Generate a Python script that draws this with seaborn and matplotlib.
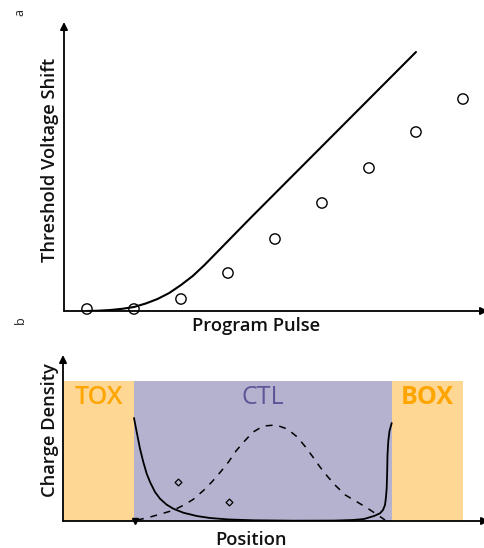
import matplotlib
matplotlib.use("Agg")
import matplotlib.pyplot as plt
import seaborn as sns
import pandas as pd

# ---- data: panel a (threshold voltage shift vs program pulse) ----
pulse_pts = [0, 1, 2, 3, 4, 5, 6, 7, 8]
shift_pts = [2, 2, 12, 38, 72, 108, 143, 179, 212]
pulse_curve = [0, 0.25, 0.5, 0.75, 1, 1.25, 1.5, 1.75, 2, 2.25, 2.5, 2.75, 3, 3.5, 7]
shift_curve = [0, 0.3, 1, 2.2, 4, 7.5, 12, 18, 26, 35, 46, 58, 70, 94, 259]

# ---- data: panel b (charge density vs position) ----
regions = ["TOX", "CTL", "BOX"]
region_start = [0, 70, 328]
region_end = [70, 328, 399]
region_top = 140
solid_pos = [70, 72.7, 76, 79.3, 82.7, 86, 91, 96, 102.7, 109.3, 119.3, 132.7, 146,
             165, 190, 230, 270, 289, 300, 310, 316, 319, 321, 322, 322.7, 323.2,
             323.5, 324.3, 325.5, 327.7]
solid_den = [103, 89, 72.3, 59, 47.3, 39, 29, 22.3, 16.3, 12.3, 8.3, 5, 3,
             1.5, 0.7, 0.3, 0.4, 1, 2, 5, 7.7, 11, 16, 24, 33, 50,
             66, 80, 90, 98]
dash_pos = [73, 82.7, 95, 109.3, 121, 129.3, 140, 148.7, 156.7, 164.7, 172, 180,
            188.7, 199.3, 212, 223.3, 233.3, 241.3, 248.7, 256, 263.7, 272, 281.3,
            292.7, 302.7, 312.7, 321]
dash_den = [1, 3, 6.5, 10.7, 16.5, 21.7, 31, 40, 49.3, 59.3, 70, 79.3,
            88.7, 95, 96, 92, 84, 74.3, 64.3, 54, 44.3, 35, 26,
            19.3, 13.3, 6.7, 1]
marker_pos = [114.3, 165]
marker_den = [39.3, 19.3]

sns.set_style("white")
plt.rcParams["font.family"] = ["Open Sans", "DejaVu Sans"]

fig = plt.figure(figsize=(4.84, 5.48), dpi=100)
W, H = 484, 548


def add_axes(l, r, t, b):
    return fig.add_axes([l / W, (H - b) / H, (r - l) / W, (b - t) / H])


def arrows(ax):
    for s in ax.spines.values():
        s.set_visible(False)
    ax.annotate("", xy=(0, 1), xytext=(0, 0), xycoords="axes fraction",
                arrowprops=dict(arrowstyle="-|>", lw=1.3, color="black",
                                mutation_scale=11, shrinkA=0, shrinkB=0))
    ax.annotate("", xy=(1.012, 0), xytext=(0, 0), xycoords="axes fraction",
                arrowprops=dict(arrowstyle="-|>", lw=1.3, color="black",
                                mutation_scale=11, shrinkA=0, shrinkB=0))
    ax.set_xticks([])
    ax.set_yticks([])


LABEL_KW = dict(fontsize=13.2, fontweight="semibold", color="#111111")

# ---- panel a ----
ax1 = add_axes(64, 483, 22, 311)
df_curve = pd.DataFrame({"pulse": pulse_curve, "shift": shift_curve})
df_pts = pd.DataFrame({"pulse": pulse_pts, "shift": shift_pts})
sns.lineplot(data=df_curve, x="pulse", y="shift", ax=ax1, color="black", lw=1.5)
sns.scatterplot(data=df_pts, x="pulse", y="shift", ax=ax1, marker="o", s=55,
                facecolor="none", edgecolor="black", linewidth=1.0, zorder=5,
                clip_on=False)
ax1.set_xlim(-0.489, 8.426)
ax1.set_ylim(0, 289)
arrows(ax1)
ax1.set_xlabel("Program Pulse", **LABEL_KW)
ax1.set_ylabel("Threshold Voltage Shift", **LABEL_KW)
ax1.xaxis.set_label_coords(0.458, -0.022)
ax1.yaxis.set_label_coords(-0.012, 0.522)

# ---- panel b ----
ax2 = add_axes(63, 484, 355, 521)
ax2.set_xlim(-1, 420)
ax2.set_ylim(0, 166)
band_colors = ["#fed795", "#b4b2ce", "#fed795"]
text_colors = ["#ffa500", "#5b5799", "#ffa500"]
weights = ["semibold", "normal", "bold"]
for name, s, e, bc, tc, w in zip(regions, region_start, region_end, band_colors,
                                 text_colors, weights):
    ax2.fill_between([s, e], 0, region_top, color=bc, lw=0, zorder=0)
    ax2.text((s + e) / 2, 124, name, ha="center", va="center", fontsize=18,
             color=tc, fontweight=w)
df_solid = pd.DataFrame({"pos": solid_pos, "den": solid_den})
df_dash = pd.DataFrame({"pos": dash_pos, "den": dash_den})
sns.lineplot(data=df_solid, x="pos", y="den", ax=ax2, color="black", lw=1.3)
sns.lineplot(data=df_dash, x="pos", y="den", ax=ax2, color="black", lw=1.1,
             dashes=False, linestyle=(0, (4.5, 4.5)))
ax2.plot(marker_pos, marker_den, ls="none", marker="D", ms=3.5, mfc="none",
         mec="black", mew=0.9)
ax2.plot([71], [0], ls="none", marker="v", ms=5, color="black", clip_on=False,
         zorder=6)
arrows(ax2)
ax2.set_xlabel("Position", **LABEL_KW)
ax2.set_ylabel("Charge Density", **LABEL_KW)
ax2.xaxis.set_label_coords(0.447, -0.062)
ax2.yaxis.set_label_coords(-0.01, 0.548)

# panel letters
fig.text(20 / W, 1 - 12 / H, "a", fontsize=9, rotation=90, ha="center", va="center",
         color="#222222")
fig.text(20 / W, 1 - 320 / H, "b", fontsize=9, rotation=90, ha="center", va="center",
         color="#222222")

fig.savefig("out.png", dpi=100)
